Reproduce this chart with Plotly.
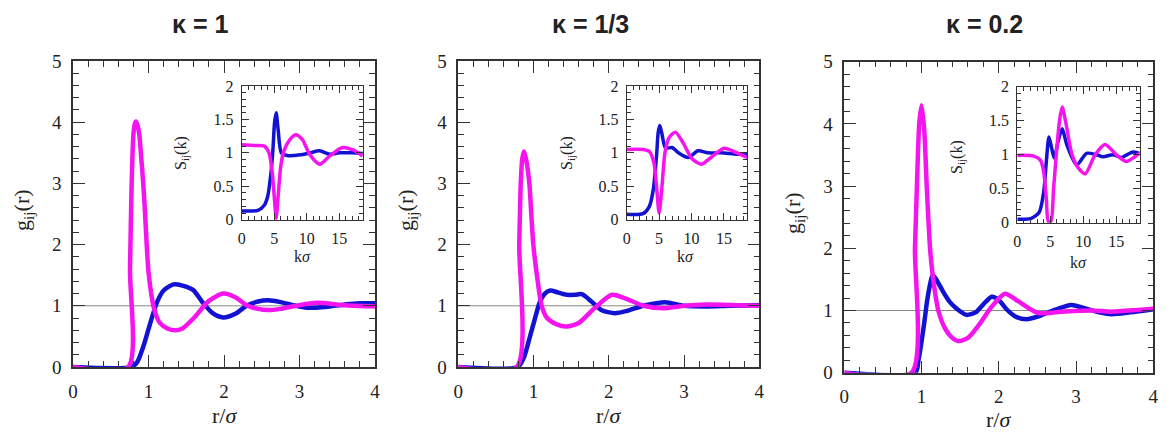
import plotly.graph_objects as go

# ---------------- data ----------------
titles = ["κ = 1", "κ = 1/3", "κ = 0.2"]

# panel 1 (kappa = 1) : g(r)
r1_m = [0, 0.73, 0.755, 0.777, 0.80, 0.818, 0.834, 0.855, 0.878, 0.905, 0.93, 0.955, 0.976, 1.0, 1.03, 1.064, 1.1, 1.15, 1.25, 1.35, 1.45, 1.6, 1.8, 1.99, 2.15, 2.3, 2.45, 2.59, 2.75, 2.95, 3.23, 3.6, 4.0]
g1_m = [0, 0.0, 1.6, 3.0, 3.8, 3.97, 4.01, 3.95, 3.8, 3.4, 3.0, 2.5, 2.0, 1.55, 1.25, 1.0, 0.85, 0.72, 0.63, 0.6, 0.63, 0.8, 1.08, 1.2, 1.14, 1.01, 0.95, 0.93, 0.95, 1.0, 1.05, 1.01, 0.99]
r1_b = [0, 0.77, 0.85, 0.93, 1.0, 1.064, 1.12, 1.2, 1.33, 1.45, 1.59, 1.72, 1.85, 1.99, 2.15, 2.3, 2.45, 2.59, 2.75, 2.95, 3.1, 3.23, 3.4, 3.6, 3.8, 4.0]
g1_b = [0, 0.0, 0.08, 0.33, 0.62, 0.88, 1.08, 1.25, 1.35, 1.33, 1.26, 1.05, 0.88, 0.81, 0.87, 1.0, 1.07, 1.09, 1.06, 1.0, 0.97, 0.97, 0.99, 1.02, 1.04, 1.04]

# panel 2 (kappa = 1/3)
r2_m = [0, 0.776, 0.81, 0.83, 0.85, 0.873, 0.9, 0.944, 0.97, 0.997, 1.05, 1.108, 1.18, 1.3, 1.44, 1.6, 1.8, 2.04, 2.2, 2.46, 2.75, 3.0, 3.3, 3.7, 4.0]
g2_m = [0, 0.0, 2.0, 3.0, 3.4, 3.52, 3.4, 3.0, 2.5, 2.0, 1.45, 1.0, 0.8, 0.7, 0.66, 0.72, 0.95, 1.18, 1.13, 1.0, 0.96, 1.0, 1.02, 1.01, 1.0]
r2_b = [0, 0.79, 0.87, 0.953, 1.02, 1.086, 1.15, 1.22, 1.32, 1.44, 1.55, 1.64, 1.77, 1.9, 2.08, 2.25, 2.46, 2.75, 3.0, 3.3, 3.6, 4.0]
g2_b = [0, 0.0, 0.15, 0.5, 0.8, 1.07, 1.2, 1.25, 1.22, 1.18, 1.18, 1.19, 1.07, 0.93, 0.88, 0.92, 1.0, 1.06, 1.0, 0.99, 1.0, 1.01]

# panel 3 (kappa = 0.2)
r3_m = [0, 0.87, 0.915, 0.94, 0.97, 1.0, 1.035, 1.067, 1.11, 1.144, 1.18, 1.217, 1.3, 1.38, 1.476, 1.6, 1.75, 1.9, 2.08, 2.25, 2.51, 2.8, 3.2, 3.46, 3.8, 4.0]
g3_m = [0, 0.0, 2.0, 3.0, 4.0, 4.3, 3.9, 3.0, 2.0, 1.57, 1.25, 1.0, 0.72, 0.58, 0.51, 0.56, 0.78, 1.05, 1.27, 1.15, 0.96, 0.98, 1.0, 0.98, 1.01, 1.03]
r3_b = [0, 0.92, 0.96, 1.0, 1.035, 1.07, 1.11, 1.144, 1.2, 1.28, 1.37, 1.455, 1.58, 1.7, 1.8, 1.91, 2.0, 2.1, 2.22, 2.36, 2.5, 2.7, 2.94, 3.15, 3.3, 3.46, 3.7, 4.0]
g3_b = [0, 0.0, 0.2, 0.5, 0.8, 1.14, 1.42, 1.57, 1.48, 1.3, 1.13, 1.03, 0.93, 0.97, 1.1, 1.22, 1.17, 1.02, 0.9, 0.86, 0.9, 1.0, 1.09, 1.02, 0.97, 0.94, 0.97, 1.02]

# insets: S(k)
k1_m = [0, 2, 3.5, 4.2, 4.7, 5.0, 5.3, 5.6, 6.0, 6.4, 7.2, 8.3, 9.3, 10.5, 12.0, 13.5, 15.5, 17.2, 18.6]
s1_m = [1.12, 1.11, 1.1, 1.0, 0.7, 0.35, 0.02, 0.35, 0.8, 1.0, 1.17, 1.27, 1.2, 0.97, 0.83, 0.95, 1.08, 1.04, 0.95]
k1_b = [0, 2.5, 3.5, 4.0, 4.5, 4.8, 5.05, 5.3, 5.6, 6.1, 7.0, 9.0, 10.5, 12.0, 13.5, 15.0, 17.0, 18.6]
s1_b = [0.13, 0.14, 0.22, 0.35, 0.7, 1.05, 1.45, 1.6, 1.35, 1.0, 0.96, 0.97, 1.0, 1.03, 0.98, 1.0, 1.0, 0.99]

k2_m = [0, 2.5, 3.5, 4.2, 4.6, 5.0, 5.4, 5.9, 6.5, 7.5, 8.7, 10.0, 11.5, 13.0, 15.0, 17.0, 18.6]
s2_m = [1.05, 1.05, 1.02, 0.85, 0.5, 0.1, 0.45, 1.0, 1.22, 1.31, 1.15, 0.92, 0.83, 0.93, 1.07, 1.0, 0.93]
k2_b = [0, 2.5, 3.5, 4.1, 4.6, 4.85, 5.1, 5.4, 6.0, 7.0, 8.0, 9.5, 11.0, 12.5, 14.5, 17.0, 18.6]
s2_b = [0.08, 0.09, 0.2, 0.45, 0.95, 1.3, 1.41, 1.3, 1.07, 1.08, 1.0, 0.93, 1.03, 1.0, 1.0, 0.98, 0.98]

k3_m = [0, 2.5, 3.5, 4.0, 4.4, 4.7, 5.1, 5.5, 6.0, 6.4, 6.8, 7.3, 8.3, 9.3, 10.3, 11.8, 13.3, 15.0, 16.5, 18.5]
s3_m = [0.99, 0.98, 0.92, 0.75, 0.35, 0.02, 0.02, 0.5, 1.1, 1.5, 1.7, 1.5, 1.0, 0.8, 0.72, 1.0, 1.15, 1.0, 0.9, 1.02]
k3_b = [0, 2.0, 3.3, 4.0, 4.4, 4.8, 5.2, 5.6, 6.2, 6.8, 7.5, 9.0, 10.5, 12.0, 13.0, 14.5, 15.8, 17.5, 18.5]
s3_b = [0.05, 0.06, 0.15, 0.45, 0.9, 1.26, 1.1, 0.95, 1.2, 1.38, 1.15, 0.85, 1.02, 1.0, 0.97, 1.0, 0.96, 1.04, 1.02]

x_title_main = "r/<i>σ</i>"
y_title_main = "g<sub>ij</sub>(r)"
x_title_ins = "k<i>σ</i>"
y_title_ins = "S<sub>ij</sub>(k)"

ref_level = 1.0
main_xrange = [0, 4]
main_yrange = [0, 5]
ins_xrange = [0, 18.6]
ins_yrange = [0, 2]

BLUE = "#1212d2"
MAG = "#f514ee"
SERIF = "Liberation Serif, Times New Roman, DejaVu Serif, serif"
AXC = "#333333"
TXT = "#222222"

# the page body has an 8px margin: figure is placed at (8, 8)
OFF = 8
PAGE_W, PAGE_H = 1174, 439
W, H = PAGE_W - 2 * OFF, PAGE_H - 2 * OFF
main_px = [(73, 375, 61, 367), (458.3, 759.3, 61, 367), (844.3, 1153.3, 61.7, 372.7)]
ins_px = [(241.7, 362.7, 86, 219.7), (626.7, 747.3, 86, 219.7), (1017.3, 1140, 86.7, 222.7)]
title_pos = [(200, 24), (590.5, 24), (984, 24)]
main_xt_pos = [(224, 415), (608, 415), (998, 419)]
main_yt_pos = [(23, 210), (407, 210), (794, 213)]
ins_xt_pos = [(302, 257), (685, 257), (1078, 262)]
ins_yt_pos = [(182, 153), (568, 153), (958, 157)]

def dom(px):
    x0, x1, y0, y1 = px
    return [(x0 - OFF) / W, (x1 - OFF) / W], [1 - (y1 - OFF) / H, 1 - (y0 - OFF) / H]

def pp(x, y):
    return (x - OFF) / W, 1 - (y - OFF) / H

fig = go.Figure()

mains = [(r1_m, g1_m, r1_b, g1_b), (r2_m, g2_m, r2_b, g2_b), (r3_m, g3_m, r3_b, g3_b)]
insets = [(k1_m, s1_m, k1_b, s1_b), (k2_m, s2_m, k2_b, s2_b), (k3_m, s3_m, k3_b, s3_b)]

def axname(i):
    return "" if i == 1 else str(i)

layout = dict(
    width=W, height=H, margin=dict(l=0, r=0, t=0, b=0, autoexpand=False),
    paper_bgcolor="white", plot_bgcolor="white", showlegend=False,
)
shapes = []
annotations = []

def ann(text, pos, size, angle=0, family=SERIF):
    x, y = pp(*pos)
    return dict(text=text, x=x, y=y, xref="paper", yref="paper", showarrow=False,
                xanchor="center", yanchor="middle", textangle=angle,
                font=dict(family=family, size=size, color=TXT))

for p in range(3):
    im = p + 1
    ii = p + 4
    rm, gm, rb, gb = mains[p]
    fig.add_trace(go.Scatter(x=rb, y=gb, mode="lines", line=dict(color=BLUE, width=4.5, shape="spline", smoothing=0.7),
                             xaxis="x" + axname(im), yaxis="y" + axname(im)))
    fig.add_trace(go.Scatter(x=rm, y=gm, mode="lines", line=dict(color=MAG, width=4.5, shape="spline", smoothing=0.7),
                             xaxis="x" + axname(im), yaxis="y" + axname(im)))
    km, sm, kb, sb = insets[p]
    fig.add_trace(go.Scatter(x=kb, y=sb, mode="lines", line=dict(color=BLUE, width=3.5, shape="spline", smoothing=0.7),
                             xaxis="x" + str(ii), yaxis="y" + str(ii)))
    fig.add_trace(go.Scatter(x=km, y=sm, mode="lines", line=dict(color=MAG, width=3.5, shape="spline", smoothing=0.7),
                             xaxis="x" + str(ii), yaxis="y" + str(ii)))

    common_main = dict(ticks="inside", ticklen=12, tickwidth=1.2, tickcolor=AXC,
                       showline=True, linecolor=AXC, linewidth=1.5, mirror="ticks",
                       showgrid=False, zeroline=False, automargin=False,
                       tickfont=dict(family=SERIF, size=19, color=TXT))
    xd, yd = dom(main_px[p])
    layout["xaxis" + axname(im)] = dict(
        domain=xd, anchor="y" + axname(im), range=main_xrange, dtick=1, tick0=0,
        minor=dict(dtick=0.2, ticks="inside", ticklen=6, tickwidth=1, tickcolor=AXC),
        ticklabelstandoff=6, **common_main)
    layout["yaxis" + axname(im)] = dict(
        domain=yd, anchor="x" + axname(im), range=main_yrange, dtick=1, tick0=0,
        minor=dict(dtick=0.2, ticks="inside", ticklen=6, tickwidth=1, tickcolor=AXC),
        ticklabelstandoff=6, **common_main)

    common_ins = dict(ticks="inside", ticklen=7, tickwidth=1, tickcolor=AXC,
                      showline=True, linecolor=AXC, linewidth=1.2, mirror="ticks",
                      showgrid=False, zeroline=False, automargin=False,
                      tickfont=dict(family=SERIF, size=16, color=TXT))
    xd, yd = dom(ins_px[p])
    layout["xaxis" + str(ii)] = dict(
        domain=xd, anchor="y" + str(ii), range=ins_xrange, dtick=5, tick0=0,
        minor=dict(dtick=1, ticks="inside", ticklen=4, tickwidth=0.8, tickcolor=AXC),
        ticklabelstandoff=4, **common_ins)
    layout["yaxis" + str(ii)] = dict(
        domain=yd, anchor="x" + str(ii), range=ins_yrange, dtick=0.5, tick0=0,
        minor=dict(dtick=0.1, ticks="inside", ticklen=4, tickwidth=0.8, tickcolor=AXC),
        ticklabelstandoff=4, **common_ins)

    shapes.append(dict(type="line", xref="x" + axname(im) + " domain", yref="y" + axname(im),
                       x0=0, x1=1, y0=ref_level, y1=ref_level, line=dict(color="#888", width=1), layer="below"))
    shapes.append(dict(type="line", xref="x" + str(ii) + " domain", yref="y" + str(ii),
                       x0=0, x1=1, y0=ref_level, y1=ref_level, line=dict(color="#999", width=1), layer="below"))

    annotations.append(ann("<b>" + titles[p] + "</b>", title_pos[p], 25, family="Liberation Sans, Arial, sans-serif"))
    annotations.append(ann(x_title_main, main_xt_pos[p], 22))
    annotations.append(ann(y_title_main, main_yt_pos[p], 22, angle=-90))
    annotations.append(ann(x_title_ins, ins_xt_pos[p], 16))
    annotations.append(ann(y_title_ins, ins_yt_pos[p], 16, angle=-90))

layout["shapes"] = shapes
layout["annotations"] = annotations
fig.update_layout(**layout)
fig.write_html("out.html")
